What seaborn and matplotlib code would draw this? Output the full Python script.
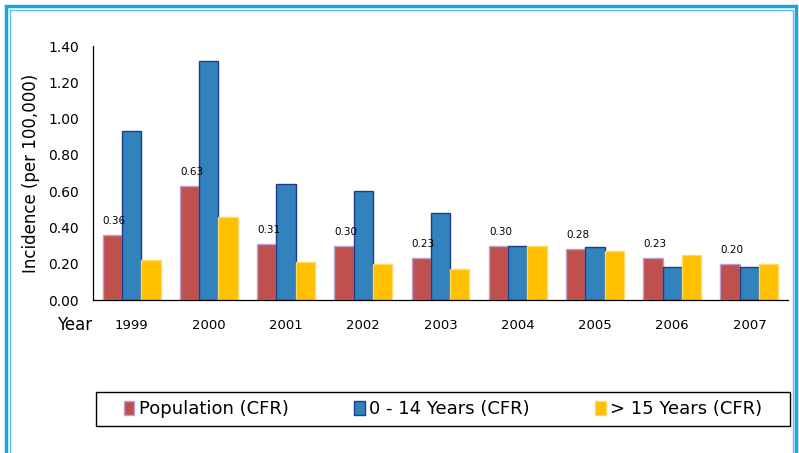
import matplotlib.pyplot as plt
import matplotlib.patches as mpatches
import numpy as np
import pandas as pd
import seaborn as sns

years = ["1999", "2000", "2001", "2002", "2003", "2004", "2005", "2006", "2007"]
population = [0.36, 0.63, 0.31, 0.30, 0.23, 0.30, 0.28, 0.23, 0.20]
age_0_14 = [0.93, 1.32, 0.64, 0.60, 0.48, 0.30, 0.29, 0.18, 0.18]
age_15_plus = [0.22, 0.46, 0.21, 0.20, 0.17, 0.30, 0.27, 0.25, 0.20]
series_names = ["Population (CFR)", "0 - 14 Years (CFR)", "> 15 Years (CFR)"]

face_colors = ["#C0504D", "#3182BD", "#FFC000"]
edge_colors = ["#B9A0CF", "#1F3C88", "#FFD966"]

df = pd.DataFrame({
    "year": years * 3,
    "value": population + age_0_14 + age_15_plus,
    "series": np.repeat(series_names, len(years)),
})

sns.set_theme(style="white")
plt.rcParams["font.family"] = ["DejaVu Sans"]
plt.rcParams["text.color"] = "black"
plt.rcParams["xtick.color"] = "black"
plt.rcParams["ytick.color"] = "black"
plt.rcParams["axes.labelcolor"] = "black"

fig = plt.figure(figsize=(7.99, 4.53), dpi=100)
ax = fig.add_axes([93 / 799, 1 - 300 / 453, 695 / 799, 254 / 453])

sns.barplot(
    data=df, x="year", y="value", hue="series",
    palette=face_colors, saturation=1, width=0.75,
    ax=ax, legend=False,
)

for cont, ec in zip(ax.containers, edge_colors):
    for bar in cont:
        bar.set_edgecolor(ec)
        bar.set_linewidth(1.0)

# value labels on population bars
for bar, v in zip(ax.containers[0], population):
    ax.text(bar.get_x() + bar.get_width() / 2 + 2 / 77, v + 0.05, f"{v:.2f}",
            ha="center", va="bottom", fontsize=7.5, color="black")

ax.set_ylim(0, 1.4)
ticks = np.arange(0, 1.41, 0.2)
ax.set_yticks(ticks)
ax.set_yticklabels([f"{t:.2f}" for t in ticks], fontsize=10)
ax.set_xlim(-0.5, len(years) - 0.5)
ax.set_xlabel("")
ax.set_ylabel("Incidence (per 100,000)", fontsize=12, labelpad=6)
ax.tick_params(axis="x", which="major", length=0, labelsize=9.5, pad=14)
ax.set_xticks(np.arange(-0.5, len(years)), minor=True)
ax.tick_params(axis="x", which="minor", length=5, width=0.6, color="#777777", direction="out")
ax.tick_params(axis="y", length=4, width=0.8, direction="out", color="#555555", pad=6)

for s in ["top", "right"]:
    ax.spines[s].set_visible(False)
ax.spines["left"].set_color("black")
ax.spines["left"].set_linewidth(0.9)
ax.spines["bottom"].set_color("black")
ax.spines["bottom"].set_linewidth(0.9)

fig.text(57 / 799, 1 - 325 / 453, "Year", fontsize=12, va="center", ha="left")

# legend box
fig.patches.append(mpatches.Rectangle((96 / 799, 1 - 426 / 453), 694 / 799, 34 / 453,
                                      transform=fig.transFigure, fill=False,
                                      edgecolor="black", linewidth=1.0))
handles = [mpatches.Patch(facecolor=fc, edgecolor=ec, linewidth=1) for fc, ec in zip(face_colors, edge_colors)]
fig.legend(
    handles, series_names, ncol=3, loc="center",
    bbox_to_anchor=(443 / 799, 1 - 409 / 453),
    fontsize=13, frameon=False, handlelength=0.6, handleheight=0.8,
    handletextpad=0.25, columnspacing=3.6,
)

# double light-blue border around figure
fig.patches.append(mpatches.Rectangle((5.5 / 799, -10 / 453), 790 / 799, 457.5 / 453, transform=fig.transFigure,
                                      fill=False, edgecolor="#1AA3E8", linewidth=2.5))
fig.patches.append(mpatches.Rectangle((10 / 799, -10 / 453), 783 / 799, 453 / 453, transform=fig.transFigure,
                                      fill=False, edgecolor="#5BC0F0", linewidth=1.0))

fig.savefig("out.png", dpi=100)
